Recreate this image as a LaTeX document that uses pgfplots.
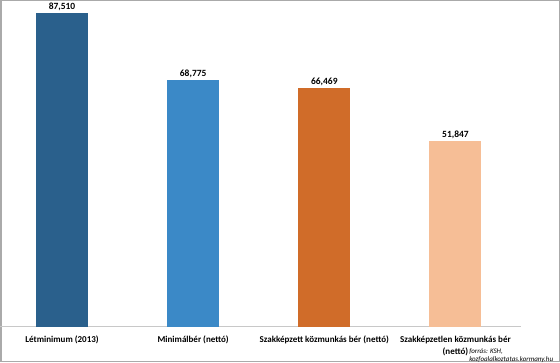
\documentclass[border=0pt]{standalone}
\usepackage{fontspec}
\setmainfont{Carlito}
\usepackage{pgfplots}
\pgfplotsset{compat=1.18}
\definecolor{cA}{RGB}{42,96,140}
\definecolor{cB}{RGB}{59,137,199}
\definecolor{cC}{RGB}{208,108,41}
\definecolor{cD}{RGB}{246,190,150}
\definecolor{frame}{RGB}{170,170,170}
\definecolor{baseln}{RGB}{200,200,200}
\begin{document}
\begin{tikzpicture}[x=1pt,y=1pt]
\draw[draw=frame, line width=1.2pt] (0.6,0.6) rectangle (559.4,361.4);
\begin{axis}[
  at={(0pt,35pt)}, anchor=south west,
  scale only axis, width=521pt, height=323pt,
  xmin=-0.47, xmax=3.5, ymin=0, ymax=90000,
  ybar,
  axis x line*=bottom, axis y line=none,
  x axis line style={draw=baseln, line width=0.8pt},
  ytick=\empty,
  xtick={0,1,2,3}, major tick length=0pt,
  xticklabels={Létminimum (2013), Minimálbér (nettó), Szakképzett közmunkás bér (nettó), {Szakképzetlen közmunkás bér\\(nettó)}},
  xticklabel style={font=\bfseries\fontsize{9}{12}\selectfont, align=center, anchor=north, yshift=-6pt},
  nodes near coords={\pgfmathprintnumber[fixed,precision=0,1000 sep={,},assume math mode=true]{\pgfplotspointmeta}},
  nodes near coords style={font=\bfseries\fontsize{9.5}{11}\selectfont, text=black, inner sep=2pt},
  clip=false,
]
\addplot[fill=cA, draw=none, bar width=52pt, bar shift=0pt] coordinates {(0,87510)};
\addplot[fill=cB, draw=none, bar width=52pt, bar shift=0pt] coordinates {(1,68775)};
\addplot[fill=cC, draw=none, bar width=52pt, bar shift=0pt] coordinates {(2,66469)};
\addplot[fill=cD, draw=none, bar width=52pt, bar shift=0pt] coordinates {(3,51847)};
\end{axis}
\node[anchor=north west, font=\itshape\fontsize{7}{7.5}\selectfont, align=left, inner sep=0pt] at (469,13) {forrás: KSH,\\kozfoalalkoztatas.kormany.hu};
\end{tikzpicture}
\end{document}
